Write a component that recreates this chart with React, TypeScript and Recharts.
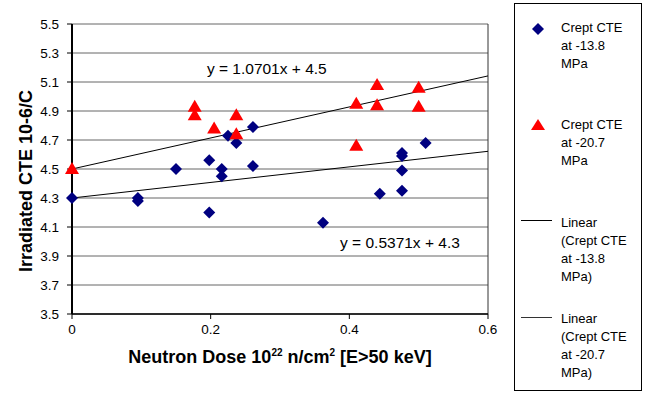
import { ScatterChart, Scatter, XAxis, YAxis, CartesianGrid, ReferenceLine, ReferenceDot, Label } from 'recharts';

// Crept CTE at -13.8 MPa
const creptLow = [
  { x: 0, y: 4.3 },
  { x: 0.095, y: 4.3 },
  { x: 0.095, y: 4.28 },
  { x: 0.15, y: 4.5 },
  { x: 0.198, y: 4.56 },
  { x: 0.198, y: 4.2 },
  { x: 0.216, y: 4.5 },
  { x: 0.216, y: 4.45 },
  { x: 0.225, y: 4.73 },
  { x: 0.237, y: 4.68 },
  { x: 0.261, y: 4.79 },
  { x: 0.261, y: 4.52 },
  { x: 0.362, y: 4.13 },
  { x: 0.444, y: 4.33 },
  { x: 0.476, y: 4.61 },
  { x: 0.476, y: 4.59 },
  { x: 0.476, y: 4.49 },
  { x: 0.476, y: 4.35 },
  { x: 0.51, y: 4.68 },
];

// Crept CTE at -20.7 MPa
const creptHigh = [
  { x: 0, y: 4.5 },
  { x: 0.177, y: 4.93 },
  { x: 0.177, y: 4.87 },
  { x: 0.205, y: 4.78 },
  { x: 0.237, y: 4.87 },
  { x: 0.237, y: 4.74 },
  { x: 0.41, y: 4.95 },
  { x: 0.41, y: 4.66 },
  { x: 0.44, y: 5.08 },
  { x: 0.44, y: 4.94 },
  { x: 0.5, y: 5.06 },
  { x: 0.5, y: 4.93 },
];

// linear trend endpoints
const trendLow = [
  { x: 0, y: 4.3 },
  { x: 0.6, y: 4.622 },
];
const trendHigh = [
  { x: 0, y: 4.5 },
  { x: 0.6, y: 5.142 },
];

const yTicks = [3.5, 3.7, 3.9, 4.1, 4.3, 4.5, 4.7, 4.9, 5.1, 5.3, 5.5];
const xTicks = [0, 0.2, 0.4, 0.6];

const font = 'Arial, "Liberation Sans", sans-serif';

const Diamond = (props: any) => {
  const { cx, cy } = props;
  return <polygon points={`${cx},${cy - 6} ${cx + 6},${cy} ${cx},${cy + 6} ${cx - 6},${cy}`} fill="#000080" />;
};

const Triangle = (props: any) => {
  const { cx, cy } = props;
  return <polygon points={`${cx},${cy - 7} ${cx + 7},${cy + 5} ${cx - 7},${cy + 5}`} fill="#ff0000" />;
};

const XLabel = (props: any) => {
  const { viewBox } = props;
  const cx = viewBox.x + viewBox.width / 2;
  return (
    <text x={cx} y={viewBox.y + 49} textAnchor="middle" fontWeight="bold" fontSize={18} fontFamily={font} fill="#000">
      Neutron Dose 10<tspan fontSize={10} dy={-7}>22</tspan>
      <tspan dy={7}> n/cm</tspan>
      <tspan fontSize={10} dy={-7}>2</tspan>
      <tspan dy={7}> [E&gt;50 keV]</tspan>
    </text>
  );
};

const YLabel = () => (
  <text
    x={0}
    y={0}
    transform="translate(32, 181) rotate(-90)"
    textAnchor="middle"
    fontWeight="bold"
    fontSize={18}
    fontFamily={font}
    fill="#000"
  >
    Irradiated CTE 10-6/C
  </text>
);

const legendText: React.CSSProperties = { fontSize: 13, lineHeight: '18px', fontFamily: font, color: '#000' };

export default function App() {
  return (
    <div style={{ position: 'fixed', left: 0, top: 0, width: 648, height: 397, background: '#fff' }}>
      <ScatterChart width={648} height={397} margin={{ top: 24, right: 160, bottom: 53, left: 32 }}>
        <CartesianGrid vertical={false} stroke="#666" />
        <XAxis
          type="number"
          dataKey="x"
          domain={[0, 0.6]}
          ticks={xTicks}
          tick={{ fill: '#000', fontSize: 13.5, fontFamily: font }}
          axisLine={{ stroke: '#000', strokeWidth: 1.5 }}
          tickLine={{ stroke: '#000' }}
          tickSize={5}
          tickMargin={5}
          height={30}
          label={<XLabel />}
        />
        <YAxis
          type="number"
          dataKey="y"
          domain={[3.5, 5.5]}
          ticks={yTicks}
          tickFormatter={(v: number) => v.toFixed(1)}
          tick={{ fill: '#000', fontSize: 13.5, fontFamily: font }}
          axisLine={{ stroke: '#000', strokeWidth: 2 }}
          tickLine={{ stroke: '#000' }}
          tickSize={5}
          tickMargin={8}
          width={40}
        >
          <Label content={<YLabel />} />
        </YAxis>
        <ReferenceLine x={0.6} stroke="#333" />
        <Scatter data={trendLow} line={{ stroke: '#000', strokeWidth: 1 }} shape={() => <g />} isAnimationActive={false} />
        <Scatter data={trendHigh} line={{ stroke: '#000', strokeWidth: 1 }} shape={() => <g />} isAnimationActive={false} />
        <Scatter name="Crept CTE at -13.8 MPa" data={creptLow} shape={Diamond} isAnimationActive={false} />
        <Scatter name="Crept CTE at -20.7 MPa" data={creptHigh} shape={Triangle} isAnimationActive={false} />
        <ReferenceDot
          x={0.281}
          y={5.19}
          r={0}
          fill="none"
          stroke="none"
          label={{ value: 'y = 1.0701x + 4.5', position: 'center', fontSize: 15.5, fontFamily: font, fill: '#000' }}
        />
        <ReferenceDot
          x={0.473}
          y={3.99}
          r={0}
          fill="none"
          stroke="none"
          label={{ value: 'y = 0.5371x + 4.3', position: 'center', fontSize: 15.5, fontFamily: font, fill: '#000' }}
        />
      </ScatterChart>
      <div
        style={{
          position: 'absolute',
          left: 514,
          top: 3,
          width: 128,
          height: 388,
          border: '1px solid #000',
          boxSizing: 'border-box',
        }}
      >
        <svg width={30} height={16} style={{ position: 'absolute', left: 16, top: 17 }}>
          <polygon points="7,2 13,8 7,14 1,8" fill="#000080" />
        </svg>
        <div style={{ ...legendText, position: 'absolute', left: 46, top: 15 }}>
          Crept CTE
          <br />
          at -13.8
          <br />
          MPa
        </div>
        <svg width={30} height={16} style={{ position: 'absolute', left: 15, top: 113 }}>
          <polygon points="8,2 15,13 1,13" fill="#ff0000" />
        </svg>
        <div style={{ ...legendText, position: 'absolute', left: 46, top: 112 }}>
          Crept CTE
          <br />
          at -20.7
          <br />
          MPa
        </div>
        <div style={{ position: 'absolute', left: 6, top: 216, width: 31, borderTop: '1px solid #000' }} />
        <div style={{ ...legendText, position: 'absolute', left: 46, top: 210 }}>
          Linear
          <br />
          (Crept CTE
          <br />
          at -13.8
          <br />
          MPa)
        </div>
        <div style={{ position: 'absolute', left: 6, top: 313, width: 31, borderTop: '1px solid #333' }} />
        <div style={{ ...legendText, position: 'absolute', left: 46, top: 306 }}>
          Linear
          <br />
          (Crept CTE
          <br />
          at -20.7
          <br />
          MPa)
        </div>
      </div>
    </div>
  );
}
